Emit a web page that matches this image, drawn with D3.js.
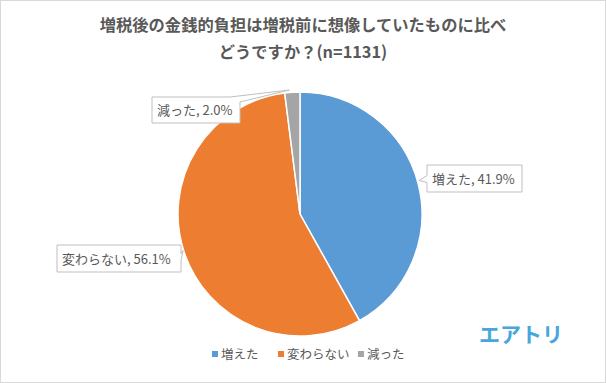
<!DOCTYPE html>
<html>
<head>
<meta charset="utf-8">
<script src="https://cdn.jsdelivr.net/npm/d3@7"></script>
<style>
  body { margin: 0; background: #fff; }
  text { font-family: "Noto Sans CJK JP", "Noto Sans", sans-serif; fill: #595959; }
</style>
</head>
<body>
<div id="app"></div>
<script>
const labels = ["増えた", "変わらない", "減った"];
const values = [41.9, 56.1, 2.0];
const colors = ["#5B9BD5", "#ED7D31", "#A5A5A5"];
const titleLines = ["増税後の金銭的負担は増税前に想像していたものに比べ", "どうですか？(n=1131)"];

const width = 606
    , height = 383
    , cx = 300
    , cy = 214
    , radius = 122;

const svg = d3.select("#app").append("svg")
    .attr("width", width)
    .attr("height", height);

svg.append("rect")
    .attr("x", 0.5).attr("y", 0.5)
    .attr("width", width - 1).attr("height", height - 1)
    .attr("fill", "#fff")
    .attr("stroke", "#d9d9d9");

// title
svg.append("g").selectAll("text")
    .data(titleLines)
  .enter().append("text")
    .attr("x", 303)
    .attr("y", (d, i) => 31 + i * 27)
    .attr("text-anchor", "middle")
    .attr("font-size", 16.3)
    .attr("font-weight", "bold")
    .text(d => d);

const pie = d3.pie().sort(null).value(d => d);
const arcs = pie(values);
const arc = d3.arc().innerRadius(0).outerRadius(radius);

const g = svg.append("g").attr("transform", `translate(${cx},${cy})`);

g.selectAll("path")
    .data(arcs)
  .enter().append("path")
    .attr("d", arc)
    .attr("fill", (d, i) => colors[i])
    .attr("stroke", "#fff")
    .attr("stroke-width", 1.5);

// callout boxes and which way the pointer goes
const boxes = [
  { x: 427, y: 165, w: 95, h: 27, side: "left" },
  { x: 57, y: 245, w: 124, h: 27, side: "right" },
  { x: 152, y: 97, w: 88, h: 26, side: "line" }
];

const callouts = svg.append("g");
arcs.forEach((a, i) => {
  const b = boxes[i];
  const mid = (a.startAngle + a.endAngle) / 2;
  const edge = [cx + Math.sin(mid) * radius, cy - Math.cos(mid) * radius];
  let p;
  if (b.side === "left") {
    const ym = b.y + b.h / 2;
    p = `M${b.x},${b.y} H${b.x + b.w} V${b.y + b.h} H${b.x} V${ym + 4} L${edge[0] + 1},${ym + 2} L${b.x},${ym - 3} Z`;
  } else if (b.side === "right") {
    const ym = b.y + b.h / 2;
    p = `M${b.x},${b.y} H${b.x + b.w} V${ym - 5} L${edge[0] - 1},${ym - 8} L${b.x + b.w},${ym + 2} V${b.y + b.h} H${b.x} Z`;
  } else {
    p = `M${b.x},${b.y} H${b.x + b.w - 10} L${edge[0] - 3},${cy - radius - 2} L${b.x + b.w},${b.y + 5} V${b.y + b.h} H${b.x} Z`;
  }
  callouts.append("path")
    .attr("d", p)
    .attr("fill", "#fff")
    .attr("stroke", "#bfbfbf")
    .attr("stroke-width", 1);
  callouts.append("text")
    .attr("x", b.x + 5)
    .attr("y", b.y + b.h / 2 + 5)
    .attr("font-size", 13)
    .text(`${labels[i]}, ${d3.format(".1f")(values[i])}%`);
});

// legend
const legendX = [212, 278, 358];
const legend = svg.append("g").selectAll("g")
    .data(labels)
  .enter().append("g")
    .attr("transform", (d, i) => `translate(${legendX[i]},359)`);
legend.append("rect")
    .attr("x", 0).attr("y", -8)
    .attr("width", 6).attr("height", 6)
    .attr("fill", (d, i) => colors[i]);
legend.append("text")
    .attr("x", 9).attr("y", 0)
    .attr("font-size", 12.5)
    .text(d => d);

// logo
svg.append("text")
    .attr("x", 479).attr("y", 342)
    .attr("font-size", 21)
    .attr("font-weight", "bold")
    .style("fill", "#48a6dd")
    .text("エアトリ");
</script>
</body>
</html>
